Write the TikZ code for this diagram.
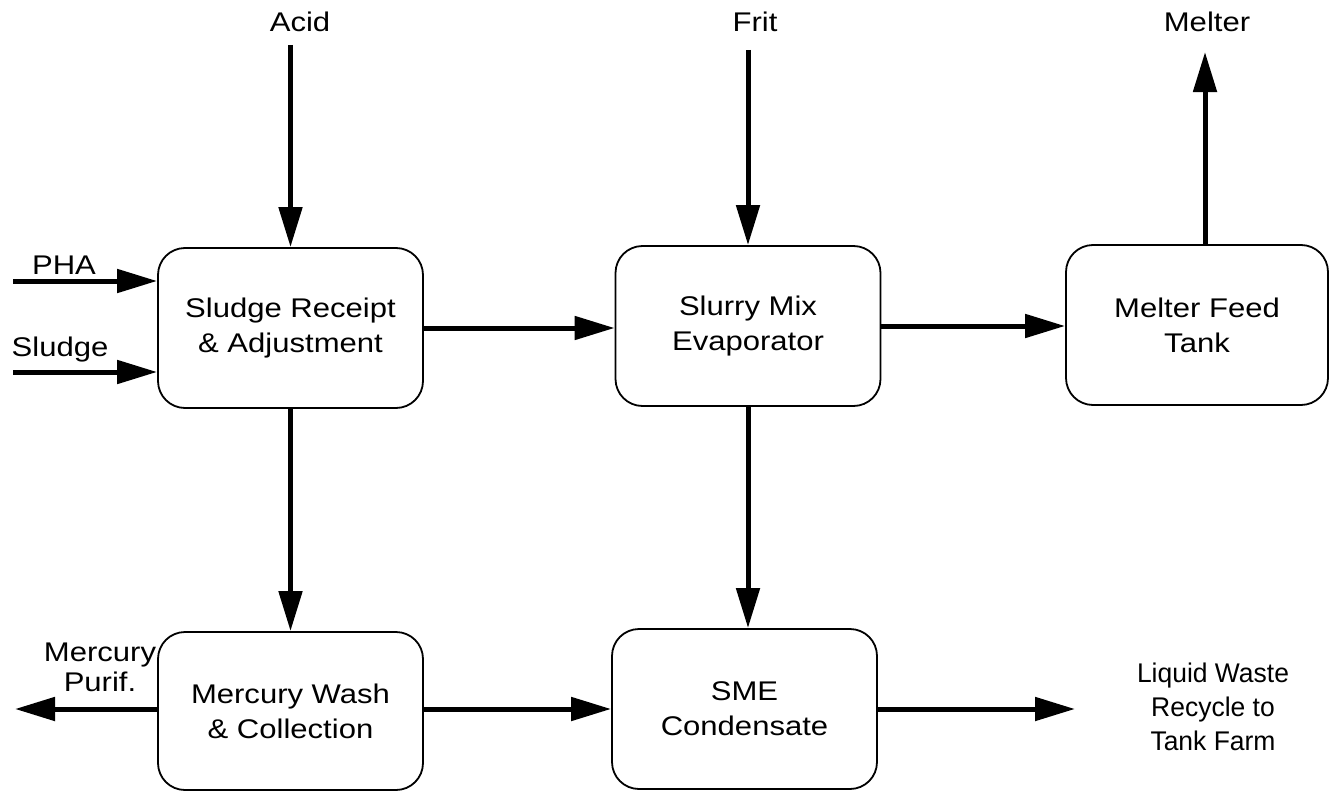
\documentclass[tikz,border=0pt]{standalone}
\usepackage{fontspec}
\setmainfont{Liberation Sans}[FakeStretch=1.15]
\newfontfamily\narrowfont{Liberation Sans}[FakeStretch=0.98]
\usetikzlibrary{arrows.meta}
\begin{document}
\begin{tikzpicture}[x=1pt,y=-1pt,
  box/.style={draw, line width=1.8pt, rounded corners=27pt, minimum width=265pt,
    minimum height=160pt, align=center, inner sep=0pt,
    font=\fontsize{27}{35}\selectfont},
  arr/.style={line width=5pt, -{Triangle[length=40pt,width=23pt]}},
  lbl/.style={font=\fontsize{27}{30}\selectfont, align=center, inner sep=0pt}]
\useasboundingbox (0,0) rectangle (1331,792);

% boxes
\node[box] (sra) at (290.5,328) {Sludge Receipt\\\& Adjustment};
\node[box] (sme) at (748,326) {Slurry Mix\\Evaporator};
\node[box, minimum width=262pt] (mft) at (1197,325) {Melter Feed\\Tank};
\node[box, minimum height=158pt] (mwc) at (290.5,711) {Mercury Wash\\\& Collection};
\node[box] (smec) at (744.5,709) {SME\\Condensate};

% free ends
\coordinate (acid) at (290.5,45);
\coordinate (frit) at (748,50);
\coordinate (melt) at (1205,52);
\coordinate (pha) at (13,281);
\coordinate (sludge) at (13,372);
\coordinate (hg) at (15,709);
\coordinate (lw) at (1075,709);

% labels
\node[lbl] (acidl) at (300,22) {Acid};
\node[lbl] (fritl) at (755,22) {Frit};
\node[lbl] (meltl) at (1207,22) {Melter};
\node[lbl] (phal) at (64,265) {PHA};
\node[lbl] (sludgel) at (60,350) {Sludge};
\node[lbl] (hgl) at (100,667) {Mercury\\Purif.};
\node[lbl, font=\narrowfont\fontsize{27}{34}\selectfont] (lwl) at (1213,707) {Liquid Waste\\Recycle to\\Tank Farm};

% connectors
\draw[arr] (acid) -- (sra.north);
\draw[arr] (frit) -- (sme.north);
\draw[arr] (mft.north -| melt) -- (melt);
\draw[arr] (pha) -- (sra.west |- pha);
\draw[arr] (sludge) -- (sra.west |- sludge);
\draw[arr] (sra.east) -- (sra.east -| sme.west);
\draw[arr] (sme.east) -- (sme.east -| mft.west);
\draw[arr] (sra.south) -- (sra.south |- mwc.north);
\draw[arr] (sme.south) -- (sme.south |- smec.north);
\draw[arr] (mwc.east |- smec.east) -- (smec.west);
\draw[arr] (mwc.west |- hg) -- (hg);
\draw[arr] (smec.east) -- (lw);
\end{tikzpicture}
\end{document}
